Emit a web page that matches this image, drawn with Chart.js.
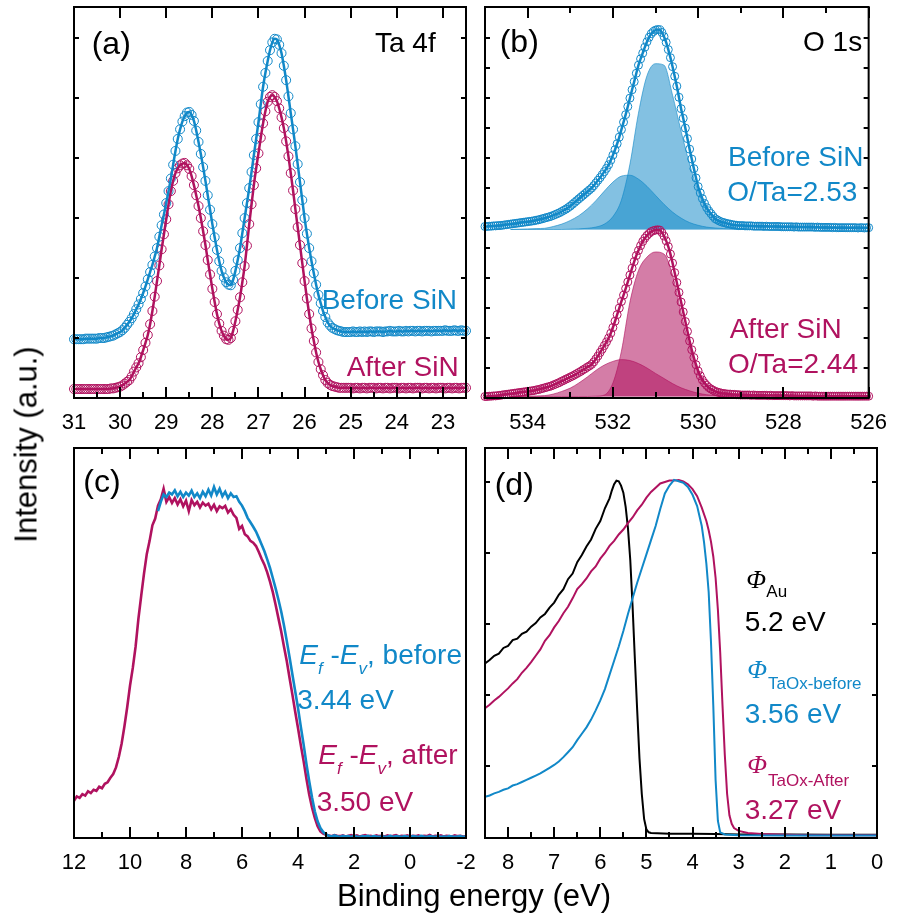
<!DOCTYPE html>
<html>
<head>
<meta charset="utf-8">
<script src="https://cdn.jsdelivr.net/npm/chart.js@4.4.1/dist/chart.umd.min.js"></script>
<style>
  body { margin: 0; background: #fff; }
  #page { position: relative; width: 899px; height: 919px; overflow: hidden; font-family: 'Liberation Sans', Arial, sans-serif; }
  canvas { position: absolute; left: 0; top: 0; }
  .t { position: absolute; white-space: nowrap; line-height: 1; font-size: 28px; }
  .p { font-size: 32px; }
  .phi { font-family: 'Liberation Serif', serif; font-style: italic; font-size: 26px; }
  .sub { font-size: 17px; }
  .sb { position: relative; top: 10px; font-size: 17px; font-style: italic; }
  .blue { color: #1188c8; }
  .mag { color: #b0125f; }
</style>
</head>
<body>
<div id="page">
  <canvas id="ca" width="899" height="919"></canvas>
  <canvas id="cb" width="899" height="919"></canvas>
  <canvas id="cc" width="899" height="919"></canvas>
  <canvas id="cd" width="899" height="919"></canvas>

  <div class="t p" style="left:91.7px; top:27px;">(a)</div>
  <div class="t" style="left:375px; top:29px;">Ta 4f</div>
  <div class="t blue" style="left:321.7px; top:286.3px;">Before SiN</div>
  <div class="t mag" style="left:346.7px; top:353px;">After SiN</div>

  <div class="t p" style="left:499.7px; top:25px;">(b)</div>
  <div class="t" style="left:803px; top:28px;">O 1s</div>
  <div class="t blue" style="left:728px; top:143px;">Before SiN</div>
  <div class="t blue" style="left:727.3px; top:178px;">O/Ta=2.53</div>
  <div class="t mag" style="left:729.7px; top:314.6px;">After SiN</div>
  <div class="t mag" style="left:728px; top:349.6px;">O/Ta=2.44</div>

  <div class="t p" style="left:83.3px; top:464.5px;">(c)</div>
  <div class="t blue" style="left:299.3px; top:641.3px;"><i>E</i><span class="sb">f</span> -<i>E</i><span class="sb">v</span>, before</div>
  <div class="t blue" style="left:297.3px; top:686.3px;">3.44 eV</div>
  <div class="t mag" style="left:318.3px; top:741.3px;"><i>E</i><span class="sb">f</span> -<i>E</i><span class="sb">v</span>, after</div>
  <div class="t mag" style="left:316.7px; top:788px;">3.50 eV</div>

  <div class="t p" style="left:494.7px; top:468px;">(d)</div>
  <div class="t phi" style="left:746.3px; top:566.5px;">Φ</div>
  <div class="t sub" style="left:766.3px; top:583.3px;">Au</div>
  <div class="t" style="left:744.7px; top:608px;">5.2 eV</div>
  <div class="t phi blue" style="left:747.3px; top:656.5px;">Φ</div>
  <div class="t sub blue" style="left:768px; top:674.9px;">TaOx-before</div>
  <div class="t blue" style="left:744.7px; top:699.6px;">3.56 eV</div>
  <div class="t phi mag" style="left:747.3px; top:751.5px;">Φ</div>
  <div class="t sub mag" style="left:768px; top:772.3px;">TaOx-After</div>
  <div class="t mag" style="left:744.7px; top:796.3px;">3.27 eV</div>

  <div class="t" style="left:274px; top:880px; width:400px; text-align:center; font-size:31px;">Binding energy (eV)</div>
  <div class="t" style="left:-124px; top:428.5px; width:300px; text-align:center; font-size:31px; transform:rotate(-90deg);">Intensity (a.u.)</div>
</div>
<script>
const BLUE = '#1188c8';
const MAG = '#b0125f';

// (a) Ta 4f, 31.00 eV down to 22.50 eV every 0.05 eV
const taStart = 31.0, taStep = -0.05;
const taBefore = [
  0.98, 0.98, 0.98, 0.98, 0.98, 0.99, 0.99, 0.99, 0.99, 0.99,
  0.99, 1.00, 1.00, 1.00, 1.01, 1.02, 1.03, 1.04, 1.06, 1.08,
  1.10, 1.13, 1.17, 1.22, 1.27, 1.33, 1.40, 1.48, 1.56, 1.65,
  1.75, 1.86, 1.98, 2.10, 2.22, 2.36, 2.50, 2.69, 2.88, 3.06,
  3.25, 3.45, 3.66, 3.89, 4.12, 4.32, 4.48, 4.61, 4.70, 4.76,
  4.77, 4.72, 4.62, 4.46, 4.27, 4.07, 3.85, 3.62, 3.38, 3.14,
  2.90, 2.68, 2.47, 2.28, 2.12, 2.01, 1.93, 1.89, 1.88, 1.97,
  2.12, 2.30, 2.50, 2.75, 3.00, 3.25, 3.50, 3.77, 4.05, 4.32,
  4.60, 4.90, 5.19, 5.42, 5.62, 5.80, 5.93, 5.99, 5.98, 5.89,
  5.75, 5.54, 5.30, 5.03, 4.75, 4.48, 4.20, 3.90, 3.60, 3.30,
  3.00, 2.74, 2.50, 2.28, 2.08, 1.89, 1.72, 1.58, 1.45, 1.35,
  1.26, 1.21, 1.17, 1.15, 1.13, 1.12, 1.11, 1.10, 1.10, 1.10,
  1.10, 1.11, 1.10, 1.10, 1.11, 1.10, 1.11, 1.10, 1.11, 1.11,
  1.10, 1.11, 1.11, 1.11, 1.10, 1.11, 1.11, 1.12, 1.11, 1.11,
  1.11, 1.12, 1.11, 1.11, 1.12, 1.11, 1.12, 1.12, 1.11, 1.12,
  1.12, 1.11, 1.12, 1.12, 1.12, 1.11, 1.12, 1.12, 1.12, 1.12,
  1.12, 1.13, 1.12, 1.12, 1.12, 1.13, 1.12, 1.12, 1.13, 1.12,
  1.12
];
const taAfter = [
  0.15, 0.15, 0.15, 0.15, 0.15, 0.15, 0.15, 0.15, 0.15, 0.15,
  0.15, 0.15, 0.15, 0.15, 0.15, 0.15, 0.16, 0.16, 0.17, 0.18,
  0.19, 0.21, 0.24, 0.27, 0.30, 0.36, 0.44, 0.51, 0.58, 0.68,
  0.80, 0.92, 1.05, 1.23, 1.45, 1.69, 1.95, 2.21, 2.48, 2.73,
  2.98, 3.23, 3.45, 3.62, 3.75, 3.83, 3.88, 3.91, 3.92, 3.88,
  3.82, 3.70, 3.55, 3.38, 3.20, 3.00, 2.78, 2.55, 2.30, 2.06,
  1.82, 1.60, 1.40, 1.24, 1.12, 1.04, 0.98, 0.97, 1.00, 1.12,
  1.28, 1.47, 1.68, 1.93, 2.20, 2.54, 2.90, 3.23, 3.55, 3.83,
  4.08, 4.34, 4.58, 4.78, 4.94, 5.02, 5.05, 5.02, 4.95, 4.83,
  4.68, 4.50, 4.28, 4.03, 3.75, 3.46, 3.15, 2.85, 2.55, 2.25,
  1.95, 1.66, 1.40, 1.16, 0.95, 0.76, 0.60, 0.48, 0.38, 0.30,
  0.25, 0.22, 0.20, 0.19, 0.18, 0.17, 0.17, 0.17, 0.17, 0.17,
  0.17, 0.16, 0.17, 0.17, 0.16, 0.17, 0.17, 0.16, 0.17, 0.17,
  0.17, 0.16, 0.17, 0.17, 0.16, 0.17, 0.17, 0.16, 0.17, 0.17,
  0.17, 0.16, 0.17, 0.17, 0.16, 0.17, 0.17, 0.16, 0.17, 0.17,
  0.17, 0.16, 0.17, 0.17, 0.16, 0.17, 0.17, 0.16, 0.17, 0.17,
  0.17, 0.16, 0.17, 0.17, 0.16, 0.17, 0.17, 0.16, 0.17, 0.17,
  0.17
];
const taTicks = [31, 30, 29, 28, 27, 26, 25, 24, 23];

// (b) O 1s, 535.00 eV down to 526.00 eV every 0.05 eV
const osStart = 535.0, osStep = -0.05;
const osBefore = [
  5.72, 5.72, 5.73, 5.73, 5.74, 5.74, 5.75, 5.75, 5.76, 5.77,
  5.78, 5.79, 5.80, 5.81, 5.82, 5.83, 5.84, 5.85, 5.86, 5.87,
  5.88, 5.89, 5.90, 5.91, 5.93, 5.94, 5.96, 5.98, 6.00, 6.02,
  6.04, 6.06, 6.09, 6.12, 6.15, 6.18, 6.22, 6.26, 6.30, 6.35,
  6.40, 6.46, 6.52, 6.58, 6.64, 6.70, 6.76, 6.82, 6.88, 6.94,
  7.00, 7.08, 7.17, 7.26, 7.35, 7.45, 7.55, 7.66, 7.78, 7.93,
  8.10, 8.28, 8.48, 8.70, 8.95, 9.20, 9.45, 9.72, 10.00, 10.28,
  10.55, 10.83, 11.10, 11.31, 11.50, 11.70, 11.88, 12.03, 12.15, 12.22,
  12.27, 12.29, 12.28, 12.19, 12.05, 11.86, 11.62, 11.35, 11.05, 10.73,
  10.40, 10.03, 9.65, 9.33, 9.00, 8.65, 8.30, 7.97, 7.65, 7.34,
  7.05, 6.84, 6.65, 6.49, 6.35, 6.24, 6.15, 6.06, 5.98, 5.94,
  5.90, 5.87, 5.85, 5.83, 5.81, 5.80, 5.78, 5.77, 5.76, 5.75,
  5.75, 5.75, 5.74, 5.74, 5.74, 5.74, 5.73, 5.73, 5.73, 5.73,
  5.73, 5.72, 5.73, 5.72, 5.72, 5.72, 5.72, 5.72, 5.72, 5.71,
  5.71, 5.71, 5.71, 5.71, 5.71, 5.70, 5.71, 5.70, 5.70, 5.70,
  5.70, 5.70, 5.70, 5.70, 5.70, 5.69, 5.70, 5.69, 5.69, 5.69,
  5.69, 5.69, 5.69, 5.68, 5.69, 5.68, 5.68, 5.68, 5.68, 5.68,
  5.68, 5.68, 5.68, 5.68, 5.68, 5.67, 5.68, 5.68, 5.67, 5.68,
  5.68
];
const osAfter = [
  0.05, 0.05, 0.06, 0.06, 0.07, 0.07, 0.08, 0.09, 0.10, 0.11,
  0.12, 0.13, 0.14, 0.15, 0.16, 0.17, 0.18, 0.19, 0.20, 0.21,
  0.22, 0.23, 0.24, 0.25, 0.27, 0.28, 0.30, 0.32, 0.34, 0.36,
  0.38, 0.40, 0.43, 0.46, 0.49, 0.52, 0.56, 0.59, 0.63, 0.66,
  0.70, 0.73, 0.77, 0.81, 0.85, 0.89, 0.94, 0.98, 1.03, 1.07,
  1.12, 1.20, 1.30, 1.40, 1.52, 1.63, 1.75, 1.87, 2.00, 2.16,
  2.35, 2.56, 2.78, 3.00, 3.22, 3.43, 3.65, 3.87, 4.10, 4.33,
  4.55, 4.75, 4.92, 5.08, 5.22, 5.33, 5.42, 5.49, 5.55, 5.58,
  5.60, 5.61, 5.60, 5.52, 5.40, 5.24, 5.05, 4.80, 4.50, 4.18,
  3.85, 3.52, 3.20, 2.87, 2.55, 2.22, 1.90, 1.61, 1.35, 1.11,
  0.90, 0.74, 0.60, 0.50, 0.42, 0.35, 0.30, 0.26, 0.22, 0.20,
  0.18, 0.16, 0.15, 0.14, 0.13, 0.13, 0.12, 0.12, 0.11, 0.11,
  0.10, 0.10, 0.10, 0.10, 0.10, 0.09, 0.10, 0.09, 0.09, 0.09,
  0.09, 0.09, 0.09, 0.08, 0.09, 0.08, 0.08, 0.08, 0.08, 0.08,
  0.08, 0.08, 0.08, 0.07, 0.08, 0.07, 0.07, 0.07, 0.07, 0.07,
  0.07, 0.07, 0.07, 0.07, 0.06, 0.07, 0.06, 0.06, 0.06, 0.06,
  0.06, 0.06, 0.06, 0.06, 0.06, 0.06, 0.06, 0.06, 0.06, 0.06,
  0.06, 0.06, 0.06, 0.06, 0.06, 0.06, 0.06, 0.06, 0.06, 0.06,
  0.06
];
// fitted components
const osCompX = [534.4, 534.2, 534.0, 533.8, 533.6, 533.4, 533.2, 533.0, 532.8, 532.6,
  532.4, 532.2, 532.0, 531.8, 531.6, 531.4, 531.2, 531.0, 530.8, 530.6,
  530.4, 530.2, 530.0, 529.8, 529.6, 529.4, 529.2, 529.0, 528.8, 528.6, 528.4];
const osBeforeMain = [5.62, 5.62, 5.62, 5.62, 5.62, 5.62, 5.62, 5.63, 5.64, 5.66,
  5.70, 5.80, 6.05, 6.60, 7.80, 9.50, 10.75, 11.15, 11.10, 10.10,
  8.90, 7.80, 6.90, 6.30, 5.95, 5.78, 5.70, 5.66, 5.63, 5.62, 5.62];
const osBeforeBroad = [5.62, 5.63, 5.64, 5.65, 5.66, 5.72, 5.80, 5.92, 6.08, 6.30,
  6.58, 6.90, 7.20, 7.40, 7.43, 7.30, 7.06, 6.76, 6.46, 6.20,
  6.00, 5.85, 5.76, 5.70, 5.67, 5.65, 5.64, 5.63, 5.62, 5.62, 5.62];
const osAfterMain = [0.05, 0.05, 0.05, 0.05, 0.05, 0.05, 0.05, 0.05, 0.05, 0.05,
  0.06, 0.10, 0.50, 1.56, 3.20, 4.25, 4.70, 4.87, 4.80, 4.10,
  2.85, 1.70, 0.95, 0.45, 0.20, 0.10, 0.07, 0.06, 0.05, 0.05, 0.05];
const osAfterBroad = [0.05, 0.05, 0.06, 0.07, 0.08, 0.13, 0.22, 0.33, 0.50, 0.70,
  0.92, 1.10, 1.22, 1.28, 1.25, 1.15, 1.00, 0.82, 0.65, 0.48,
  0.34, 0.24, 0.16, 0.11, 0.08, 0.07, 0.06, 0.05, 0.05, 0.05, 0.05];
const osTicks = [534, 532, 530, 528, 526];

// (c) valence band, 0.1 eV steps
const vbStep = -0.1;
const vbAfterStart = 12.0;
const vbAfter = [
  0.100, 0.112, 0.108, 0.118, 0.114, 0.126, 0.121, 0.130, 0.127, 0.138,
  0.134, 0.146, 0.150, 0.162, 0.172, 0.190, 0.218, 0.254, 0.300, 0.352,
  0.410, 0.458, 0.515, 0.590, 0.652, 0.712, 0.765, 0.800, 0.842, 0.860,
  0.895, 0.912, 0.940, 0.905, 0.918, 0.902, 0.915, 0.898, 0.912, 0.893,
  0.908, 0.880, 0.910, 0.896, 0.905, 0.890, 0.903, 0.895, 0.900, 0.885,
  0.897, 0.880, 0.893, 0.888, 0.894, 0.876, 0.885, 0.870, 0.862, 0.832,
  0.840, 0.818, 0.812, 0.800, 0.795, 0.786, 0.770, 0.752, 0.736, 0.715,
  0.690, 0.662, 0.628, 0.592, 0.556, 0.515, 0.476, 0.430, 0.386, 0.340,
  0.296, 0.250, 0.207, 0.160, 0.117, 0.082, 0.054, 0.032, 0.018, 0.012,
  0.009, 0.007, 0.005, 0.008, 0.006, 0.005, 0.007, 0.004, 0.006, 0.008,
  0.005, 0.007, 0.004, 0.006, 0.008, 0.005, 0.006, 0.004, 0.007, 0.005,
  0.006, 0.004, 0.007, 0.005, 0.006, 0.008, 0.004, 0.006, 0.005, 0.007,
  0.004, 0.006, 0.005, 0.007, 0.004, 0.006, 0.005, 0.008, 0.004, 0.006,
  0.005, 0.007, 0.004, 0.006, 0.005, 0.004, 0.007, 0.005, 0.006, 0.004,
  0.005
];
const vbBeforeStart = 9.0;
const vbBefore = [
  0.880, 0.905, 0.925, 0.918, 0.930, 0.925, 0.936, 0.920, 0.932, 0.918,
  0.930, 0.922, 0.935, 0.918, 0.928, 0.915, 0.932, 0.920, 0.938, 0.922,
  0.945, 0.925, 0.940, 0.920, 0.932, 0.915, 0.928, 0.918, 0.920, 0.905,
  0.895, 0.880, 0.862, 0.850, 0.838, 0.825, 0.808, 0.790, 0.772, 0.750,
  0.727, 0.700, 0.672, 0.642, 0.610, 0.572, 0.530, 0.486, 0.440, 0.395,
  0.350, 0.300, 0.252, 0.200, 0.153, 0.110, 0.072, 0.045, 0.027, 0.016,
  0.010, 0.006, 0.004, 0.007, 0.005, 0.003, 0.006, 0.004, 0.005, 0.003,
  0.006, 0.004, 0.003, 0.005, 0.004, 0.006, 0.003, 0.005, 0.004, 0.003,
  0.005, 0.003, 0.004, 0.006, 0.003, 0.005, 0.004, 0.003, 0.005, 0.004,
  0.003, 0.005, 0.004, 0.003, 0.006, 0.004, 0.003, 0.005, 0.004, 0.003,
  0.005, 0.003, 0.004, 0.003, 0.005, 0.004, 0.003, 0.004, 0.005, 0.003,
  0.004
];
const vbTicks = [12, 10, 8, 6, 4, 2, 0, -2];

// (d) secondary electron cut-off
const auX = [8.5, 8.4, 8.3, 8.2, 8.1, 8.0, 7.9, 7.8, 7.7, 7.6, 7.5, 7.4, 7.3, 7.2, 7.1, 7.0,
  6.9, 6.8, 6.7, 6.6, 6.5, 6.4, 6.3, 6.2, 6.1, 6.0, 5.9, 5.8,
  5.75, 5.7, 5.65, 5.6, 5.55, 5.5, 5.45, 5.4, 5.35, 5.3, 5.25, 5.2, 5.15, 5.1, 5.05, 5.0, 4.95, 4.9,
  4.5, 4.0, 3.5, 3.0, 2.0, 1.0, 0.0];
const auY = [2.44, 2.49, 2.55, 2.58, 2.66, 2.69, 2.77, 2.79, 2.86, 2.89, 2.96, 3.01, 3.09, 3.14, 3.23, 3.30,
  3.41, 3.49, 3.63, 3.71, 3.87, 3.97, 4.09, 4.19, 4.34, 4.45, 4.63, 4.77,
  4.88, 4.97, 5.02, 5.01, 4.95, 4.85, 4.65, 4.35, 3.90, 3.25, 2.50, 1.78, 1.10, 0.60, 0.25, 0.10, 0.06, 0.05,
  0.04, 0.04, 0.035, 0.03, 0.03, 0.025, 0.025];
const afterX = [8.5, 8.4, 8.3, 8.2, 8.1, 8.0, 7.9, 7.8, 7.7, 7.6, 7.5, 7.4, 7.3, 7.2, 7.1, 7.0,
  6.9, 6.8, 6.7, 6.6, 6.5, 6.4, 6.3, 6.2, 6.1, 6.0, 5.9, 5.8, 5.7, 5.6, 5.5, 5.4, 5.3, 5.2, 5.1, 5.0,
  4.9, 4.8, 4.7, 4.6, 4.5, 4.4, 4.3, 4.2, 4.1, 4.0,
  3.9, 3.8, 3.7, 3.65, 3.6, 3.55, 3.5, 3.45, 3.4, 3.35, 3.3, 3.25, 3.2, 3.15, 3.1, 3.0,
  2.8, 2.5, 2.0, 1.5, 1.0, 0.5, 0.0];
const afterY = [1.81, 1.86, 1.92, 1.97, 2.03, 2.09, 2.16, 2.22, 2.31, 2.38,
  2.46, 2.55, 2.64, 2.76, 2.84, 2.95, 3.04, 3.15, 3.24, 3.36,
  3.49, 3.56, 3.64, 3.74, 3.81, 3.92, 4.00, 4.10, 4.17, 4.26,
  4.33, 4.42, 4.50, 4.60, 4.68, 4.78, 4.86, 4.92, 4.98, 5.00,
  5.02, 5.02, 5.03, 5.01, 4.97, 4.90,
  4.80, 4.64, 4.45, 4.32, 4.16, 3.95, 3.65, 3.20, 2.60, 1.85, 1.15, 0.60, 0.30, 0.18, 0.12, 0.08,
  0.05, 0.035, 0.025, 0.02, 0.02, 0.02, 0.02];
const beforeX = [8.5, 8.4, 8.3, 8.2, 8.1, 8.0, 7.9, 7.8, 7.7, 7.6, 7.5, 7.4, 7.3, 7.2, 7.1, 7.0,
  6.9, 6.8, 6.7, 6.6, 6.5, 6.4, 6.3, 6.2, 6.1, 6.0, 5.9, 5.8, 5.7, 5.6, 5.5, 5.4, 5.3, 5.2, 5.1, 5.0,
  4.9, 4.8, 4.7, 4.6, 4.5, 4.4, 4.3, 4.2, 4.1, 4.0,
  3.9, 3.8, 3.75, 3.7, 3.65, 3.6, 3.55, 3.5, 3.45, 3.4, 3.3, 3.0, 2.0, 1.0, 0.0];
const beforeY = [0.56, 0.58, 0.61, 0.63, 0.66, 0.68, 0.72, 0.74, 0.77, 0.80,
  0.83, 0.86, 0.89, 0.93, 0.97, 1.01, 1.06, 1.12, 1.19, 1.26,
  1.36, 1.45, 1.54, 1.65, 1.78, 1.92, 2.08, 2.28, 2.48, 2.68,
  2.90, 3.14, 3.36, 3.58, 3.78, 3.98, 4.18, 4.38, 4.62, 4.84,
  4.95, 5.03, 5.01, 4.99, 4.93, 4.82,
  4.66, 4.38, 4.15, 3.85, 3.45, 2.75, 1.85, 0.80, 0.22, 0.06, 0.03, 0.02, 0.015, 0.015, 0.015];
const wfTicks = [8, 7, 6, 5, 4, 3, 2, 1, 0];

function grid(start, step, ys) {
  return ys.map((y, i) => ({ x: +(start + i * step).toFixed(2), y: y }));
}
function pairs(xs, ys) {
  return xs.map((x, i) => ({ x: x, y: ys[i] }));
}

// box with inward ticks on all sides
const frame = {
  id: 'frame',
  afterDatasetsDraw(chart, args, o) {
    const ctx = chart.ctx, a = chart.chartArea, x = chart.scales.x, y = chart.scales.y;
    ctx.save();
    ctx.strokeStyle = '#000';
    ctx.lineWidth = 2;
    ctx.beginPath();
    const n0 = Math.ceil(x.min / o.minor - 1e-6), n1 = Math.floor(x.max / o.minor + 1e-6);
    for (let n = n0; n <= n1; n++) {
      const v = n * o.minor;
      const px = Math.round(x.getPixelForValue(v));
      const major = Math.abs(v / o.major - Math.round(v / o.major)) < 1e-6;
      const len = major ? 11 : 6;
      ctx.moveTo(px, a.bottom); ctx.lineTo(px, a.bottom - len);
      if (major || o.topMinor) { ctx.moveTo(px, a.top); ctx.lineTo(px, a.top + len); }
    }
    if (o.yStep) {
      for (let v = o.yStep; v < y.max - 0.2 * o.yStep; v += o.yStep) {
        const py = Math.round(y.getPixelForValue(v));
        ctx.moveTo(a.left, py); ctx.lineTo(a.left + 5, py);
        ctx.moveTo(a.right, py); ctx.lineTo(a.right - 5, py);
      }
    }
    ctx.stroke();
    ctx.strokeRect(a.left, a.top, a.right - a.left, a.bottom - a.top);
    ctx.restore();
  }
};

function makePanel(id, area, xr, yr, ticks, frameOpts, datasets) {
  return new Chart(document.getElementById(id), {
    type: 'scatter',
    data: { datasets: datasets },
    options: {
      responsive: false,
      animation: false,
      devicePixelRatio: 1,
      events: [],
      layout: { padding: { left: area[0], right: 899 - area[1], top: area[2], bottom: 919 - area[3] - 40 } },
      plugins: { legend: { display: false }, tooltip: { enabled: false }, frame: frameOpts },
      scales: {
        x: {
          type: 'linear', reverse: true, min: xr[0], max: xr[1],
          grid: { display: false, drawTicks: false },
          border: { display: false },
          afterBuildTicks: s => { s.ticks = ticks.map(v => ({ value: v })); },
          afterFit: s => { s.height = 40; },
          ticks: { color: '#000', font: { family: 'Liberation Sans', size: 22 }, padding: 12, maxRotation: 0, autoSkip: false }
        },
        y: { display: false, min: yr[0], max: yr[1] }
      }
    },
    plugins: [frame]
  });
}

function fitLine(data, color, order) {
  return { data: data, showLine: true, borderColor: color, borderWidth: 2.5, pointRadius: 0,
    cubicInterpolationMode: 'monotone', order: order };
}
function circles(data, color, r, order) {
  return { data: data, showLine: false, pointRadius: r, pointBorderWidth: 1, pointBorderColor: color,
    pointBackgroundColor: 'rgba(0,0,0,0)', clip: false, order: order };
}
function component(data, fillColor, lineColor, base) {
  return { data: data, showLine: true, fill: { value: base }, backgroundColor: fillColor, borderColor: lineColor,
    borderWidth: 1, pointRadius: 0, cubicInterpolationMode: 'monotone', order: 4 };
}
function trace(data, color, width, order) {
  return { data: data, showLine: true, borderColor: color, borderWidth: width, pointRadius: 0, order: order };
}

makePanel('ca', [74, 466, 7, 398], [22.5, 31], [0, 6.52], taTicks,
  { major: 1, minor: 0.5, topMinor: false, yStep: 1 }, [
    fitLine(grid(taStart, taStep, taBefore), BLUE, 0),
    circles(grid(taStart, taStep, taBefore), BLUE, 4.5, 1),
    fitLine(grid(taStart, taStep, taAfter), MAG, 0),
    circles(grid(taStart, taStep, taAfter), MAG, 4.5, 1)
  ]);

makePanel('cb', [485, 877, 7, 398], [526, 535], [0, 13.04], osTicks,
  { major: 2, minor: 1, topMinor: true, yStep: 1 }, [
    component(pairs(osCompX, osBeforeMain), 'rgba(17,136,200,0.52)', 'rgba(17,136,200,0.6)', 5.62),
    component(pairs(osCompX, osBeforeBroad), 'rgba(17,136,200,0.52)', 'rgba(17,136,200,0.6)', 5.62),
    component(pairs(osCompX, osAfterMain), 'rgba(176,18,95,0.55)', 'rgba(176,18,95,0.6)', 0.05),
    component(pairs(osCompX, osAfterBroad), 'rgba(176,18,95,0.55)', 'rgba(176,18,95,0.6)', 0.05),
    fitLine(grid(osStart, osStep, osBefore), BLUE, 0),
    circles(grid(osStart, osStep, osBefore), BLUE, 4, 1),
    fitLine(grid(osStart, osStep, osAfter), MAG, 0),
    circles(grid(osStart, osStep, osAfter), MAG, 4, 1)
  ]);

makePanel('cc', [74, 466, 448, 838], [-2, 12], [0, 1.05], vbTicks,
  { major: 2, minor: 1, topMinor: true, yStep: 0 }, [
    trace(grid(vbAfterStart, vbStep, vbAfter), MAG, 2.6, 1),
    trace(grid(vbBeforeStart, vbStep, vbBefore), BLUE, 2.6, 0)
  ]);

makePanel('cd', [485, 877, 448, 838], [0, 8.5], [-0.02, 5.48], wfTicks,
  { major: 1, minor: 0.5, topMinor: true, yStep: 1 }, [
    trace(pairs(auX, auY), '#000', 2, 2),
    trace(pairs(afterX, afterY), MAG, 2, 1),
    trace(pairs(beforeX, beforeY), BLUE, 2, 0)
  ]);
</script>
</body>
</html>
